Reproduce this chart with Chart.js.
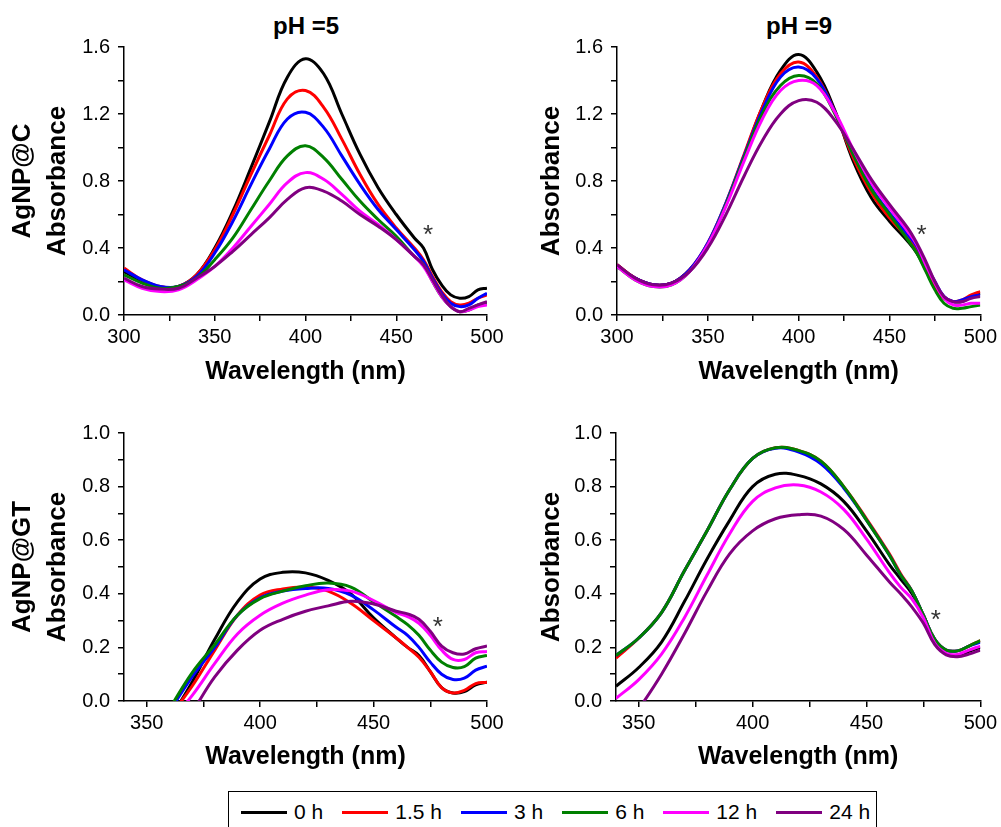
<!DOCTYPE html>
<html>
<head>
<meta charset="utf-8">
<script src="https://cdn.jsdelivr.net/npm/chart.js@4.4.0/dist/chart.umd.min.js"></script>
<style>
  body { margin: 0; width: 1001px; height: 827px; overflow: hidden; background: #fff; position: relative;
         font-family: 'Liberation Sans', Arial, sans-serif; color: #000; }
  canvas { position: absolute; }
  .ptitle { position: absolute; top: 12px; font-size: 24px; font-weight: bold; transform: translateX(-50%); white-space: nowrap; }
  #legend { position: absolute; left: 228px; top: 791px; width: 647px; height: 40px; border: 1.5px solid #000;
            display: flex; align-items: center; font-size: 21px; white-space: nowrap; }
  #legend span { flex-shrink: 0; }
  #legend .sw { display: inline-block; width: 46px; height: 3px; margin-right: 7px; }
  #legend .lb { margin-right: 19px; }
</style>
</head>
<body>
<div class="ptitle" style="left:306px">pH =5</div>
<div class="ptitle" style="left:799px">pH =9</div>
<canvas id="p1" width="520" height="400" style="left:0;top:0;width:520px;height:400px"></canvas>
<canvas id="p2" width="501" height="400" style="left:500px;top:0;width:501px;height:400px"></canvas>
<canvas id="p3" width="520" height="385" style="left:0;top:400px;width:520px;height:385px"></canvas>
<canvas id="p4" width="501" height="385" style="left:500px;top:400px;width:501px;height:385px"></canvas>
<div id="legend"></div>
<script>
// --- data ---
const seriesNames = ['0 h', '1.5 h', '3 h', '6 h', '12 h', '24 h'];
const seriesColors = ['#000000', '#ff0000', '#0000ff', '#008000', '#ff00ff', '#800080'];

// AgNP@C (top row), wavelength in nm
const wavelengthsTop = [300, 310, 320, 330, 340, 350, 360, 370, 380, 390, 400, 410, 420, 430, 440, 450, 460, 465, 470, 475, 480, 485, 490, 495, 500];
// pH 5
const c5_t0   = [0.26, 0.20, 0.165, 0.17, 0.24, 0.40, 0.62, 0.88, 1.15, 1.42, 1.53, 1.44, 1.20, 0.96, 0.76, 0.60, 0.46, 0.40, 0.27, 0.18, 0.12, 0.10, 0.11, 0.15, 0.16];
const c5_t1_5 = [0.28, 0.21, 0.17, 0.17, 0.24, 0.39, 0.60, 0.84, 1.07, 1.29, 1.34, 1.24, 1.05, 0.84, 0.66, 0.52, 0.40, 0.33, 0.23, 0.14, 0.08, 0.06, 0.07, 0.10, 0.12];
const c5_t3   = [0.27, 0.21, 0.17, 0.17, 0.23, 0.37, 0.56, 0.78, 0.99, 1.17, 1.21, 1.12, 0.95, 0.78, 0.63, 0.51, 0.39, 0.32, 0.22, 0.13, 0.07, 0.05, 0.06, 0.10, 0.13];
const c5_t6   = [0.24, 0.19, 0.16, 0.17, 0.22, 0.33, 0.46, 0.63, 0.80, 0.95, 1.01, 0.94, 0.81, 0.68, 0.57, 0.47, 0.35, 0.30, 0.20, 0.11, 0.05, 0.02, 0.03, 0.06, 0.07];
const c5_t12  = [0.21, 0.16, 0.14, 0.15, 0.21, 0.29, 0.40, 0.53, 0.66, 0.79, 0.85, 0.81, 0.72, 0.62, 0.54, 0.45, 0.35, 0.29, 0.20, 0.11, 0.05, 0.02, 0.03, 0.05, 0.06];
const c5_t24  = [0.22, 0.17, 0.155, 0.16, 0.22, 0.29, 0.38, 0.48, 0.58, 0.69, 0.76, 0.74, 0.68, 0.60, 0.53, 0.45, 0.35, 0.30, 0.21, 0.12, 0.05, 0.02, 0.04, 0.06, 0.08];
// pH 9
const c9_t0   = [0.30, 0.22, 0.18, 0.19, 0.27, 0.42, 0.66, 0.95, 1.24, 1.46, 1.555, 1.45, 1.22, 0.92, 0.70, 0.56, 0.44, 0.37, 0.27, 0.17, 0.10, 0.08, 0.08, 0.11, 0.13];
const c9_t1_5 = [0.30, 0.22, 0.18, 0.19, 0.27, 0.43, 0.67, 0.96, 1.24, 1.44, 1.51, 1.42, 1.21, 0.94, 0.73, 0.58, 0.46, 0.39, 0.28, 0.18, 0.10, 0.08, 0.09, 0.12, 0.14];
const c9_t3   = [0.29, 0.22, 0.18, 0.19, 0.27, 0.43, 0.67, 0.95, 1.22, 1.42, 1.48, 1.41, 1.21, 0.96, 0.76, 0.61, 0.48, 0.41, 0.30, 0.20, 0.11, 0.08, 0.09, 0.11, 0.12];
const c9_t6   = [0.29, 0.21, 0.17, 0.18, 0.26, 0.42, 0.66, 0.94, 1.20, 1.37, 1.43, 1.38, 1.20, 0.96, 0.75, 0.60, 0.45, 0.37, 0.26, 0.15, 0.07, 0.04, 0.04, 0.05, 0.06];
const c9_t12  = [0.29, 0.21, 0.17, 0.18, 0.26, 0.42, 0.65, 0.92, 1.17, 1.34, 1.40, 1.37, 1.21, 0.99, 0.79, 0.64, 0.50, 0.42, 0.30, 0.19, 0.10, 0.06, 0.06, 0.07, 0.07];
const c9_t24  = [0.30, 0.22, 0.18, 0.19, 0.26, 0.40, 0.60, 0.83, 1.04, 1.20, 1.28, 1.27, 1.16, 0.99, 0.81, 0.66, 0.52, 0.43, 0.32, 0.20, 0.11, 0.08, 0.08, 0.10, 0.11];

// AgNP@GT (bottom row)
const wavelengthsBottom = [340, 350, 360, 370, 380, 390, 400, 410, 420, 430, 440, 450, 460, 465, 470, 475, 480, 485, 490, 495, 500];
// pH 5
const g5_t0   = [null, null, -0.07, 0.07, 0.23, 0.37, 0.455, 0.48, 0.478, 0.45, 0.40, 0.31, 0.235, 0.20, 0.17, 0.11, 0.05, 0.03, 0.035, 0.06, 0.07];
const g5_t1_5 = [null, null, -0.06, 0.055, 0.19, 0.32, 0.395, 0.418, 0.425, 0.41, 0.365, 0.30, 0.235, 0.20, 0.163, 0.11, 0.05, 0.03, 0.04, 0.065, 0.07];
const g5_t3   = [null, null, -0.04, 0.09, 0.20, 0.32, 0.385, 0.41, 0.42, 0.42, 0.395, 0.34, 0.275, 0.245, 0.20, 0.145, 0.10, 0.08, 0.085, 0.115, 0.13];
const g5_t6   = [null, null, -0.03, 0.105, 0.21, 0.32, 0.382, 0.41, 0.43, 0.44, 0.425, 0.37, 0.315, 0.285, 0.245, 0.19, 0.145, 0.125, 0.128, 0.16, 0.17];
const g5_t12  = [null, null, -0.08, 0.02, 0.14, 0.25, 0.32, 0.365, 0.395, 0.415, 0.41, 0.375, 0.33, 0.315, 0.29, 0.245, 0.19, 0.155, 0.155, 0.18, 0.185];
const g5_t24  = [null, null, -0.15, -0.04, 0.09, 0.19, 0.264, 0.305, 0.335, 0.355, 0.372, 0.362, 0.335, 0.325, 0.305, 0.26, 0.205, 0.18, 0.175, 0.195, 0.205];
// pH 9
const g9_t0   = [0.055, 0.125, 0.22, 0.37, 0.53, 0.675, 0.80, 0.846, 0.842, 0.81, 0.745, 0.635, 0.51, 0.455, 0.40, 0.32, 0.22, 0.175, 0.17, 0.185, 0.20];
const g9_t1_5 = [0.16, 0.235, 0.33, 0.485, 0.635, 0.79, 0.905, 0.945, 0.935, 0.895, 0.80, 0.68, 0.55, 0.475, 0.41, 0.32, 0.23, 0.19, 0.187, 0.205, 0.225];
const g9_t3   = [0.17, 0.235, 0.33, 0.485, 0.635, 0.79, 0.905, 0.943, 0.93, 0.885, 0.795, 0.675, 0.545, 0.47, 0.41, 0.32, 0.23, 0.19, 0.187, 0.205, 0.22];
const g9_t6   = [0.17, 0.235, 0.33, 0.485, 0.635, 0.79, 0.905, 0.945, 0.935, 0.895, 0.80, 0.675, 0.545, 0.47, 0.41, 0.32, 0.23, 0.19, 0.187, 0.205, 0.225];
const g9_t12  = [0.01, 0.08, 0.175, 0.31, 0.47, 0.625, 0.745, 0.795, 0.806, 0.78, 0.715, 0.605, 0.48, 0.425, 0.38, 0.31, 0.215, 0.178, 0.174, 0.19, 0.205];
const g9_t24  = [-0.15, -0.03, 0.10, 0.25, 0.41, 0.55, 0.635, 0.68, 0.695, 0.69, 0.64, 0.545, 0.445, 0.40, 0.35, 0.29, 0.21, 0.172, 0.165, 0.175, 0.19];

// ticks / labels
const xTicksTop = [300, 325, 350, 375, 400, 425, 450, 475, 500];
const xLabelsTop = [300, 350, 400, 450, 500];
const xTicksBottom = [350, 375, 400, 425, 450, 475, 500];
const xLabelsBottom = [350, 400, 450, 500];
const yTicksTop = [0, 0.2, 0.4, 0.6, 0.8, 1.0, 1.2, 1.4, 1.6];
const yLabelsTop = [0, 0.4, 0.8, 1.2, 1.6];
const yTicksBottom = [0, 0.1, 0.2, 0.3, 0.4, 0.5, 0.6, 0.7, 0.8, 0.9, 1.0];
const yLabelsBottom = [0, 0.2, 0.4, 0.6, 0.8, 1.0];

// asterisk marks (wavelength, absorbance)
const starC5 = [467.5, 0.51];
const starC9 = [467.6, 0.51];
const starG5 = [478.3, 0.294];
const starG9 = [480.4, 0.32];

// --- charts ---
const FONT = "'Liberation Sans', Arial, sans-serif";

const starPlugin = {
    id: 'star',
    afterDatasetsDraw(chart, args, opts) {
        const { ctx, scales } = chart;
        ctx.save();
        ctx.font = '26px ' + FONT;
        ctx.fillStyle = '#333';
        ctx.textAlign = 'center';
        ctx.textBaseline = 'middle';
        ctx.fillText('*', scales.x.getPixelForValue(opts.at[0]), scales.y.getPixelForValue(opts.at[1]) + 6);
        ctx.restore();
    }
};

function hasLabel(list, v) {
    return list.some(l => Math.abs(l - v) < 1e-6);
}

function makePanel(p) {
    const datasets = p.series.map((arr, i) => ({
        label: seriesNames[i],
        data: p.xs.map((x, j) => ({ x: x, y: arr[j] })),
        borderColor: seriesColors[i],
        borderWidth: 3,
        pointRadius: 0,
        tension: 0.4,
        order: p.series.length - 1 - i, // later series on top
        clip: 0
    }));

    new Chart(document.getElementById(p.id), {
        type: 'line',
        data: { datasets: datasets },
        plugins: [starPlugin],
        options: {
            responsive: false,
            animation: false,
            devicePixelRatio: 1,
            layout: { padding: { top: p.area.top, right: p.area.right, left: 0, bottom: 0 } },
            plugins: {
                legend: { display: false },
                tooltip: { enabled: false },
                star: { at: p.star }
            },
            scales: {
                x: {
                    type: 'linear',
                    min: p.xMin,
                    max: 500,
                    afterBuildTicks: s => { s.ticks = p.xTicks.map(v => ({ value: v })); },
                    afterFit: s => { s.height = p.area.xH; },
                    border: { display: true, color: '#000', width: 1.5 },
                    grid: { drawOnChartArea: false, drawTicks: true, tickLength: 6, color: '#000', lineWidth: 1.5 },
                    ticks: {
                        autoSkip: false, maxRotation: 0, padding: 4, color: '#000',
                        font: { family: FONT, size: 20 },
                        callback: v => hasLabel(p.xLabels, v) ? String(v) : ''
                    },
                    title: {
                        display: true, text: 'Wavelength (nm)', color: '#000',
                        font: { family: FONT, size: 25, weight: 'bold', lineHeight: 1.2 },
                        padding: { top: 0, bottom: 13 }
                    }
                },
                y: {
                    type: 'linear',
                    min: 0,
                    max: p.yMax,
                    afterBuildTicks: s => { s.ticks = p.yTicks.map(v => ({ value: v })); },
                    afterFit: s => { s.width = p.area.yW; },
                    border: { display: true, color: '#000', width: 1.5 },
                    grid: { drawOnChartArea: false, drawTicks: true, tickLength: 6, color: '#000', lineWidth: 1.5 },
                    ticks: {
                        autoSkip: false, padding: 8, color: '#000',
                        font: { family: FONT, size: 20 },
                        callback: v => hasLabel(p.yLabels, v) ? v.toFixed(1) : ''
                    },
                    title: {
                        display: true, text: p.yTitle, color: '#000',
                        font: { family: FONT, size: 26, weight: 'bold', lineHeight: 1.365 },
                        padding: { top: p.titlePad, bottom: 0 }
                    }
                }
            }
        }
    });
}

makePanel({ id: 'p1', xs: wavelengthsTop, series: [c5_t0, c5_t1_5, c5_t3, c5_t6, c5_t12, c5_t24],
    xMin: 300, yMax: 1.6, xTicks: xTicksTop, xLabels: xLabelsTop, yTicks: yTicksTop, yLabels: yLabelsTop,
    yTitle: ['AgNP@C', 'Absorbance'], titlePad: 5, star: starC5,
    area: { top: 47, right: 33, yW: 124, xH: 85 } });

makePanel({ id: 'p2', xs: wavelengthsTop, series: [c9_t0, c9_t1_5, c9_t3, c9_t6, c9_t12, c9_t24],
    xMin: 300, yMax: 1.6, xTicks: xTicksTop, xLabels: xLabelsTop, yTicks: yTicksTop, yLabels: yLabelsTop,
    yTitle: 'Absorbance', titlePad: 34, star: starC9,
    area: { top: 47, right: 20, yW: 117, xH: 85 } });

makePanel({ id: 'p3', xs: wavelengthsBottom, series: [g5_t0, g5_t1_5, g5_t3, g5_t6, g5_t12, g5_t24],
    xMin: 340, yMax: 1.0, xTicks: xTicksBottom, xLabels: xLabelsBottom, yTicks: yTicksBottom, yLabels: yLabelsBottom,
    yTitle: ['AgNP@GT', 'Absorbance'], titlePad: 5, star: starG5,
    area: { top: 33, right: 33, yW: 124, xH: 84 } });

makePanel({ id: 'p4', xs: wavelengthsBottom, series: [g9_t0, g9_t1_5, g9_t3, g9_t6, g9_t12, g9_t24],
    xMin: 340, yMax: 1.0, xTicks: xTicksBottom, xLabels: xLabelsBottom, yTicks: yTicksBottom, yLabels: yLabelsBottom,
    yTitle: 'Absorbance', titlePad: 34, star: starG9,
    area: { top: 33, right: 20, yW: 116, xH: 84 } });

// shared legend under the bottom row
const legend = document.getElementById('legend');
legend.innerHTML = '<span style="width:12px"></span>' + seriesNames.map((name, i) =>
    '<span class="sw" style="background:' + seriesColors[i] + '"></span><span class="lb">' + name + '</span>'
).join('');
</script>
</body>
</html>
